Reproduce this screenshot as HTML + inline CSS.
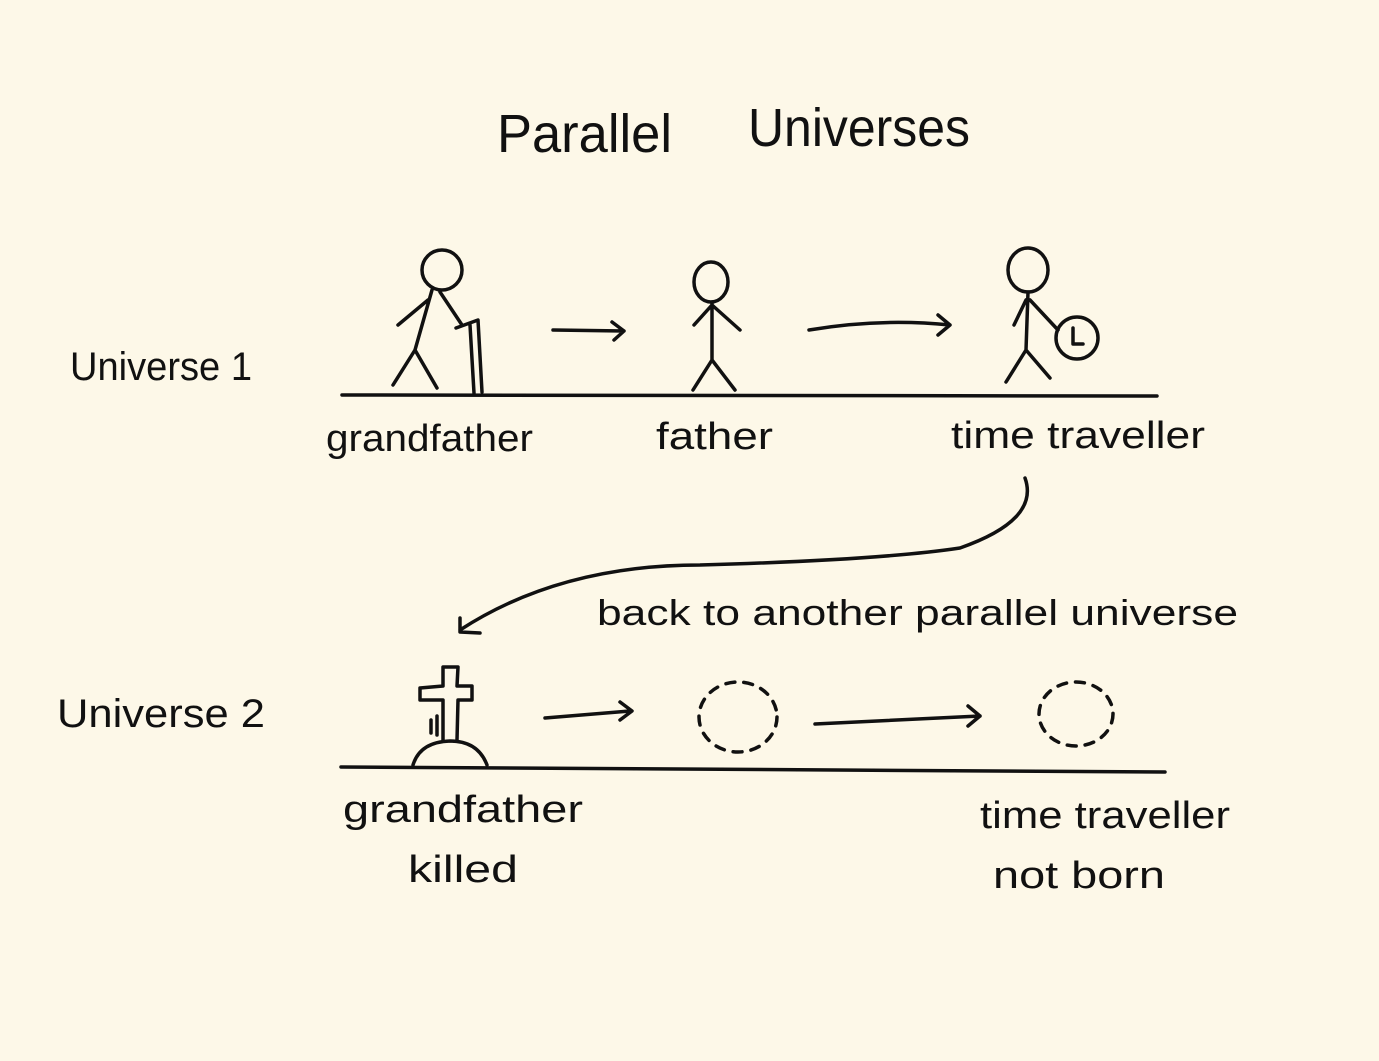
<!DOCTYPE html>
<html><head><meta charset="utf-8"><style>
html,body{margin:0;padding:0;background:#fdf8e8;}
svg{display:block}
text{font-family:"Liberation Sans",sans-serif;fill:#111;}
</style></head><body>
<svg width="1379" height="1061" viewBox="0 0 1379 1061" xmlns="http://www.w3.org/2000/svg">
<rect width="1379" height="1061" fill="#fdf8e8"/>
<g fill="none" stroke="#111" stroke-width="3.5" stroke-linecap="round" stroke-linejoin="round">
<path d="M342 395 L1157 396"/>
<path d="M341 767 L1165 772"/>
<circle cx="442" cy="270" r="20"/>
<path d="M432 290 L415 350 M428 300 L398 325 M440 292 L462 325 M415 350 L393 385 M415 350 L437 388"/>
<path d="M456 328 L478 320 L482 392 M470 325 L474 393"/>
<ellipse cx="711" cy="282" rx="17" ry="20"/>
<path d="M712 302 L712 360 M712 305 L694 325 M712 305 L740 330 M712 360 L693 390 M712 360 L735 390"/>
<ellipse cx="1028" cy="270" rx="20" ry="22"/>
<path d="M1028 292 L1026 350 M1026 300 L1014 325 M1030 300 L1058 330 M1026 350 L1006 382 M1026 350 L1050 378"/>
<circle cx="1077" cy="338" r="21"/>
<path d="M1073 328 L1073 344 L1083 344"/>
<path d="M553 330 L624 331 M612 322 L624 331 L614 340"/>
<path d="M809 330 Q880 318 950 325 M938 315 L950 325 L938 335"/>
<path d="M1025 478 Q1040 520 960 548 Q880 560 700 565 Q560 565 460 630 M460 618 L460 632 L480 633"/>
<path d="M420 688 L443 686 L443 667 L458 667 L457 686 L472 686 L472 700 L458 700 L457 740 M443 700 L420 700 L420 688 M443 700 L443 740"/>
<path d="M431 720 L431 733 M437 716 L437 735"/>
<path d="M413 765 Q420 742 450 741 Q478 741 487 765"/>
<path d="M545 718 L630 711 M620 702 L632 711 L620 720"/>
<path d="M815 724 L980 716 M968 706 L980 716 L968 726"/>
<ellipse cx="738" cy="717" rx="39" ry="35" stroke-dasharray="9 9"/>
<ellipse cx="1076" cy="714" rx="37" ry="32" stroke-dasharray="9 9"/>
</g>
<text x="497" y="152" font-size="54" textLength="175" lengthAdjust="spacingAndGlyphs">Parallel</text>
<text x="748" y="146" font-size="54" textLength="222" lengthAdjust="spacingAndGlyphs">Universes</text>
<text x="70" y="380" font-size="40" textLength="182" lengthAdjust="spacingAndGlyphs">Universe 1</text>
<text x="326" y="451" font-size="38" textLength="207" lengthAdjust="spacingAndGlyphs">grandfather</text>
<text x="656" y="449" font-size="38" textLength="117" lengthAdjust="spacingAndGlyphs">father</text>
<text x="951" y="448" font-size="38" textLength="254" lengthAdjust="spacingAndGlyphs">time traveller</text>
<text x="597" y="625" font-size="36" textLength="641" lengthAdjust="spacingAndGlyphs">back to another parallel universe</text>
<text x="57" y="727" font-size="40" textLength="208" lengthAdjust="spacingAndGlyphs">Universe 2</text>
<text x="343" y="822" font-size="38" textLength="240" lengthAdjust="spacingAndGlyphs">grandfather</text>
<text x="408" y="882" font-size="38" textLength="110" lengthAdjust="spacingAndGlyphs">killed</text>
<text x="980" y="828" font-size="38" textLength="250" lengthAdjust="spacingAndGlyphs">time traveller</text>
<text x="993" y="888" font-size="38" textLength="172" lengthAdjust="spacingAndGlyphs">not born</text>
</svg>
</body></html>
